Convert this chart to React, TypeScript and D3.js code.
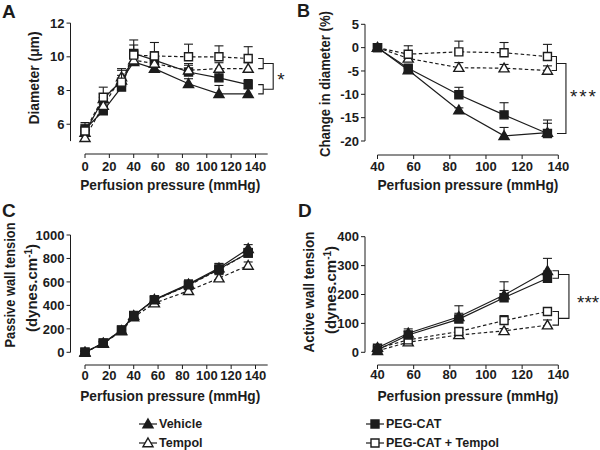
import React from "react";
import * as d3 from "d3";

const FONT = "'Liberation Sans', Arial, Helvetica, sans-serif";
const INK = "#1c1c1c";

// ---------- Data ----------
const seriesNames = ["Vehicle", "Tempol", "PEG-CAT", "PEG-CAT + Tempol"];

// Panel A: Diameter (µm)
const xA = [0, 15, 30, 40, 57, 85, 110, 134];
const vehicleA = [5.5, 7.5, 8.6, 9.7, 9.3, 8.4, 7.8, 7.8];
const tempolA = [5.2, 7.1, 8.8, 9.8, 9.6, 9.2, 9.3, 9.3];
const pegA = [5.7, 6.8, 8.2, 10.2, 9.8, 9.1, 8.75, 8.35];
const pegTempolA = [5.6, 7.6, 8.5, 10.1, 10.05, 10.0, 10.0, 9.9];
const vehicleAErr = [0.3, 0.3, 0.3, 0.4, 0.4, 0.3, 0.5, 0.3];
const tempolAErr = [0.4, 0.5, 0.5, 0.6, 0.6, 0.4, 0.35, 0.35];
const pegAErr = [0.3, 0.4, 0.4, 0.5, 0.5, 0.4, 0.4, 0.3];
const pegTempolAErr = [0.5, 0.6, 0.7, 0.9, 0.8, 0.75, 0.65, 0.7];

// Panel B: Change in diameter (%)
const xB = [40, 57, 85, 110, 134];
const vehicleB = [0, -4.8, -13.4, -18.9, -18.2];
const tempolB = [0, -2.3, -4.3, -4.4, -4.9];
const pegB = [0, -4.4, -10.1, -14.4, -18.4];
const pegTempolB = [0, -1.4, -0.9, -1.1, -1.9];
const vehicleBErr = [0.3, 0.4, 0.5, 1.8, 2.0];
const tempolBErr = [0.3, 0.8, 1.1, 0.8, 1.0];
const pegBErr = [0.3, 0.5, 1.6, 2.6, 2.9];
const pegTempolBErr = [0.3, 1.8, 2.3, 2.2, 2.6];

// Panel C: Passive wall tension
const xC = [0, 15, 30, 40, 57, 85, 110, 134];
const vehicleC = [0, 77, 185, 313, 450, 581, 718, 883];
const tempolC = [0, 75, 180, 300, 419, 524, 632, 740];
const pegC = [0, 80, 190, 315, 447, 575, 710, 846];
const pegTempolC = [0, 78, 188, 310, 445, 570, 705, 846];
const vehicleCErr = [10, 15, 20, 25, 30, 35, 40, 35];
const tempolCErr = [10, 12, 15, 20, 25, 30, 30, 30];
const pegCErr = [10, 15, 20, 25, 30, 40, 45, 40];
const pegTempolCErr = [8, 10, 12, 15, 20, 25, 25, 25];

// Panel D: Active wall tension
const xD = [40, 57, 85, 110, 134];
const vehicleD = [16, 66, 123, 198, 282];
const tempolD = [5, 35, 60, 74, 94];
const pegD = [8, 60, 115, 189, 256];
const pegTempolD = [14, 43, 72, 110, 141];
const vehicleDErr = [5, 15, 38, 46, 43];
const tempolDErr = [5, 6, 8, 8, 18];
const pegDErr = [5, 12, 20, 25, 25];
const pegTempolDErr = [5, 8, 10, 17, 10];

// Tick labels
const xTicksAC = [0, 20, 40, 60, 80, 100, 120, 140];
const xTicksBD = [40, 60, 80, 100, 120, 140];
const yTicksA = [6, 8, 10, 12];
const yTicksB = [5, 0, -5, -10, -15, -20];
const yTicksC = [0, 200, 400, 600, 800, 1000];
const yTicksD = [0, 100, 200, 300, 400];

// ---------- Styles ----------
type Style = { shape: "tri" | "sq"; filled: boolean; dashed: boolean };
const STYLES: Record<string, Style> = {
  Vehicle: { shape: "tri", filled: true, dashed: false },
  Tempol: { shape: "tri", filled: false, dashed: true },
  "PEG-CAT": { shape: "sq", filled: true, dashed: false },
  "PEG-CAT + Tempol": { shape: "sq", filled: false, dashed: true },
};

const triPath = d3.symbol().type(d3.symbolTriangle).size(44)()!;
const sqPath = d3.symbol().type(d3.symbolSquare).size(64)()!;

function Marker({ name, cx, cy }: { name: string; cx: number; cy: number }) {
  const st = STYLES[name];
  return (
    <path
      d={st.shape === "tri" ? triPath : sqPath}
      transform={`translate(${cx},${cy + (st.shape === "tri" ? 0.8 : 0)})`}
      fill={st.filled ? INK : "#fff"}
      stroke={INK}
      strokeWidth={1.4}
    />
  );
}

type Series = { name: string; xs: number[]; ys: number[]; err: number[] };

type PanelProps = {
  x: d3.ScaleLinear<number, number>;
  y: d3.ScaleLinear<number, number>;
  xTicks: number[];
  yTicks: number[];
  xAxisY: number;
  yAxisX: number;
  xAxisEnd: number;
  yAxisDomain: [number, number];
  xLabelBase: number;
  titleBase: number;
  titleLen: number;
  series: Series[]; // draw order
};

function Panel(p: PanelProps) {
  const { x, y } = p;
  const line = d3
    .line<[number, number]>()
    .x((d) => x(d[0]))
    .y((d) => y(d[1]));
  const x0 = x(p.xTicks[0]);
  const x1 = x(p.xAxisEnd);
  const tc = (x0 + x(p.xTicks[p.xTicks.length - 1])) / 2;
  return (
    <g>
      {/* y axis */}
      <line x1={p.yAxisX} x2={p.yAxisX} y1={y(p.yAxisDomain[1])} y2={y(p.yAxisDomain[0])} stroke={INK} strokeWidth={1} />
      {p.yTicks.map((t) => (
        <g key={"yt" + t}>
          <line x1={p.yAxisX - 4} x2={p.yAxisX} y1={y(t)} y2={y(t)} stroke={INK} strokeWidth={1} />
          <text x={p.yAxisX - 6} y={y(t)} dy="0.36em" textAnchor="end" fontSize={13} fontWeight="bold" fill={INK}>
            {t}
          </text>
        </g>
      ))}
      {/* x axis */}
      <line x1={x0} x2={x1} y1={p.xAxisY} y2={p.xAxisY} stroke={INK} strokeWidth={1} />
      {p.xTicks.map((t) => (
        <g key={"xt" + t}>
          <line x1={x(t)} x2={x(t)} y1={p.xAxisY} y2={p.xAxisY + 4} stroke={INK} strokeWidth={1} />
          <text x={x(t)} y={p.xLabelBase} textAnchor="middle" fontSize={13} fontWeight="bold" fill={INK}>
            {t}
          </text>
        </g>
      ))}
      <text
        x={tc}
        y={p.titleBase}
        textAnchor="middle"
        fontSize={15}
        fontWeight="bold"
        fill={INK}
        textLength={p.titleLen}
        lengthAdjust="spacingAndGlyphs"
      >
        Perfusion pressure (mmHg)
      </text>
      {/* lines */}
      {p.series.map((s) => (
        <path
          key={"l" + s.name}
          d={line(s.xs.map((v, i) => [v, s.ys[i]] as [number, number]))!}
          fill="none"
          stroke={INK}
          strokeWidth={1.2}
          strokeDasharray={STYLES[s.name].dashed ? "3.5,2.5" : undefined}
        />
      ))}
      {/* error bars + markers */}
      {p.series.map((s) => (
        <g key={"m" + s.name}>
          {s.xs.map((v, i) => {
            const cx = x(v);
            const top = y(s.ys[i] + s.err[i]);
            return (
              <g key={i}>
                <line x1={cx} x2={cx} y1={y(s.ys[i])} y2={top} stroke={INK} strokeWidth={1.1} />
                <line x1={cx - 4.5} x2={cx + 4.5} y1={top} y2={top} stroke={INK} strokeWidth={1.1} />
              </g>
            );
          })}
          {s.xs.map((v, i) => (
            <Marker key={"k" + i} name={s.name} cx={x(v)} cy={y(s.ys[i])} />
          ))}
        </g>
      ))}
    </g>
  );
}

function Bracket({ x, y1, y2, t }: { x: number; y1: number; y2: number; t: number }) {
  return <path d={`M${x - t},${y1}H${x}V${y2}H${x - t}`} fill="none" stroke={INK} strokeWidth={1.1} />;
}

function RotTitle({ x, cy, len, children }: { x: number; cy: number; len?: number; children: React.ReactNode }) {
  return (
    <text
      transform={`translate(${x},${cy}) rotate(-90)`}
      textAnchor="middle"
      fontSize={15}
      fontWeight="bold"
      fill={INK}
      textLength={len}
      lengthAdjust={len ? "spacingAndGlyphs" : undefined}
    >
      {children}
    </text>
  );
}

export default function App() {
  // scales
  const xAC = d3.scaleLinear().domain([0, 140]).range([85, 255.5]);
  const xBD = d3.scaleLinear().domain([40, 140]).range([377.5, 558.3]);
  const yA = d3.scaleLinear().domain([5, 12]).range([141.1, 23.1]);
  const yB = d3.scaleLinear().domain([-20, 5]).range([141, 24.3]);
  const yC = d3.scaleLinear().domain([0, 1000]).range([352.3, 235]);
  const yD = d3.scaleLinear().domain([0, 400]).range([352.3, 236.7]);

  const [V, T, P, PT] = seriesNames;

  const serA: Series[] = [
    { name: V, xs: xA, ys: vehicleA, err: vehicleAErr },
    { name: P, xs: xA, ys: pegA, err: pegAErr },
    { name: T, xs: xA, ys: tempolA, err: tempolAErr },
    { name: PT, xs: xA, ys: pegTempolA, err: pegTempolAErr },
  ];
  const serB: Series[] = [
    { name: T, xs: xB, ys: tempolB, err: tempolBErr },
    { name: PT, xs: xB, ys: pegTempolB, err: pegTempolBErr },
    { name: V, xs: xB, ys: vehicleB, err: vehicleBErr },
    { name: P, xs: xB, ys: pegB, err: pegBErr },
  ];
  const serC: Series[] = [
    { name: PT, xs: xC, ys: pegTempolC, err: pegTempolCErr },
    { name: T, xs: xC, ys: tempolC, err: tempolCErr },
    { name: V, xs: xC, ys: vehicleC, err: vehicleCErr },
    { name: P, xs: xC, ys: pegC, err: pegCErr },
  ];
  const serD: Series[] = [
    { name: T, xs: xD, ys: tempolD, err: tempolDErr },
    { name: PT, xs: xD, ys: pegTempolD, err: pegTempolDErr },
    { name: V, xs: xD, ys: vehicleD, err: vehicleDErr },
    { name: P, xs: xD, ys: pegD, err: pegDErr },
  ];

  const last = (a: number[]) => a[a.length - 1];

  // bracket geometry A
  const lxA = xAC(last(xA));
  const a1 = [yA(last(pegTempolA)), yA(last(tempolA))];
  const a2 = [yA(last(pegA)), yA(last(vehicleA))];
  const aMid1 = (a1[0] + a1[1]) / 2;
  const aMid2 = (a2[0] + a2[1]) / 2;
  // B
  const lxB = xBD(last(xB));
  const b1 = [yB(last(pegTempolB)), yB(last(tempolB))];
  const bMid1 = (b1[0] + b1[1]) / 2;
  const bLow = yB(last(pegB));
  // D
  const d1 = [yD(last(vehicleD)), yD(last(pegD))];
  const d2 = [yD(last(pegTempolD)), yD(last(tempolD))];
  const dMid1 = (d1[0] + d1[1]) / 2;
  const dMid2 = (d2[0] + d2[1]) / 2;

  const legend = [
    { name: V, lx: 139, ty: 428 },
    { name: T, lx: 139, ty: 447 },
    { name: P, lx: 366, ty: 428 },
    { name: PT, lx: 366, ty: 447 },
  ];

  return (
    <svg
      width={600}
      height={450}
      style={{ position: "absolute", left: 0, top: 0, background: "#fff" }}
      fontFamily={FONT}
    >
      <rect width={600} height={450} fill="#fff" />
      {/* panel letters */}
      <text x={2} y={18} fontSize={19} fontWeight="bold" fill={INK}>A</text>
      <text x={297} y={17} fontSize={18} fontWeight="bold" fill={INK}>B</text>
      <text x={2} y={217} fontSize={19} fontWeight="bold" fill={INK}>C</text>
      <text x={298} y={217} fontSize={19} fontWeight="bold" fill={INK}>D</text>

      {/* Panel A */}
      <Panel
        x={xAC}
        y={yA}
        xTicks={xTicksAC}
        yTicks={yTicksA}
        xAxisY={154}
        yAxisX={70.5}
        xAxisEnd={150}
        yAxisDomain={[5, 12]}
        xLabelBase={171}
        titleBase={189.5}
        titleLen={180}
        series={serA}
      />
      <RotTitle x={39} cy={78} len={93}>Diameter (μm)</RotTitle>
      <Bracket x={lxA + 15} y1={a1[0]} y2={a1[1]} t={5} />
      <Bracket x={lxA + 15} y1={a2[0]} y2={a2[1]} t={5} />
      <Bracket x={lxA + 25} y1={aMid1} y2={aMid2} t={10} />
      <text x={lxA + 29} y={(aMid1 + aMid2) / 2 + 10} fontSize={19} fill={INK}>*</text>

      {/* Panel B */}
      <Panel
        x={xBD}
        y={yB}
        xTicks={xTicksBD}
        yTicks={yTicksB}
        xAxisY={155}
        yAxisX={365}
        xAxisEnd={140}
        yAxisDomain={[-20, 5]}
        xLabelBase={171}
        titleBase={189.5}
        titleLen={181}
        series={serB}
      />
      <RotTitle x={330} cy={84} len={146}>Change in diameter (%)</RotTitle>
      <Bracket x={lxB + 9} y1={b1[0]} y2={b1[1]} t={5} />
      <Bracket x={lxB + 18.5} y1={bMid1} y2={bLow} t={9} />
      <text x={570} y={103} fontSize={19} fill={INK} textLength={26} lengthAdjust="spacing">* * *</text>

      {/* Panel C */}
      <Panel
        x={xAC}
        y={yC}
        xTicks={xTicksAC}
        yTicks={yTicksC}
        xAxisY={365}
        yAxisX={70.5}
        xAxisEnd={150}
        yAxisDomain={[0, 1000]}
        xLabelBase={380}
        titleBase={401}
        titleLen={180}
        series={serC}
      />
      <RotTitle x={15} cy={285} len={125}>Passive wall tension</RotTitle>
      <RotTitle x={37} cy={288}>
        (dynes.cm<tspan dy={-5} fontSize={10}>-1</tspan>
        <tspan dy={5}>)</tspan>
      </RotTitle>

      {/* Panel D */}
      <Panel
        x={xBD}
        y={yD}
        xTicks={xTicksBD}
        yTicks={yTicksD}
        xAxisY={365}
        yAxisX={365}
        xAxisEnd={140}
        yAxisDomain={[0, 400]}
        xLabelBase={379}
        titleBase={401}
        titleLen={181}
        series={serD}
      />
      <RotTitle x={314} cy={292} len={121}>Active wall tension</RotTitle>
      <RotTitle x={336} cy={290}>
        (dynes.cm<tspan dy={-5} fontSize={10}>-1</tspan>
        <tspan dy={5}>)</tspan>
      </RotTitle>
      <Bracket x={lxB + 11} y1={d1[0]} y2={d1[1]} t={6} />
      <Bracket x={lxB + 11} y1={d2[0]} y2={d2[1]} t={6} />
      <Bracket x={lxB + 21.5} y1={dMid1} y2={dMid2} t={10.5} />
      <text x={577} y={309} fontSize={19} fill={INK}>***</text>

      {/* Legend */}
      {legend.map((l) => (
        <g key={"lg" + l.name}>
          <line x1={l.lx} x2={l.lx + 18} y1={l.ty - 4} y2={l.ty - 4} stroke={INK} strokeWidth={1.2} />
          <Marker name={l.name} cx={l.lx + 9} cy={l.ty - 4} />
          <text x={l.lx + 20} y={l.ty} fontSize={12.5} fontWeight="bold" fill={INK}>
            {l.name}
          </text>
        </g>
      ))}
    </svg>
  );
}
